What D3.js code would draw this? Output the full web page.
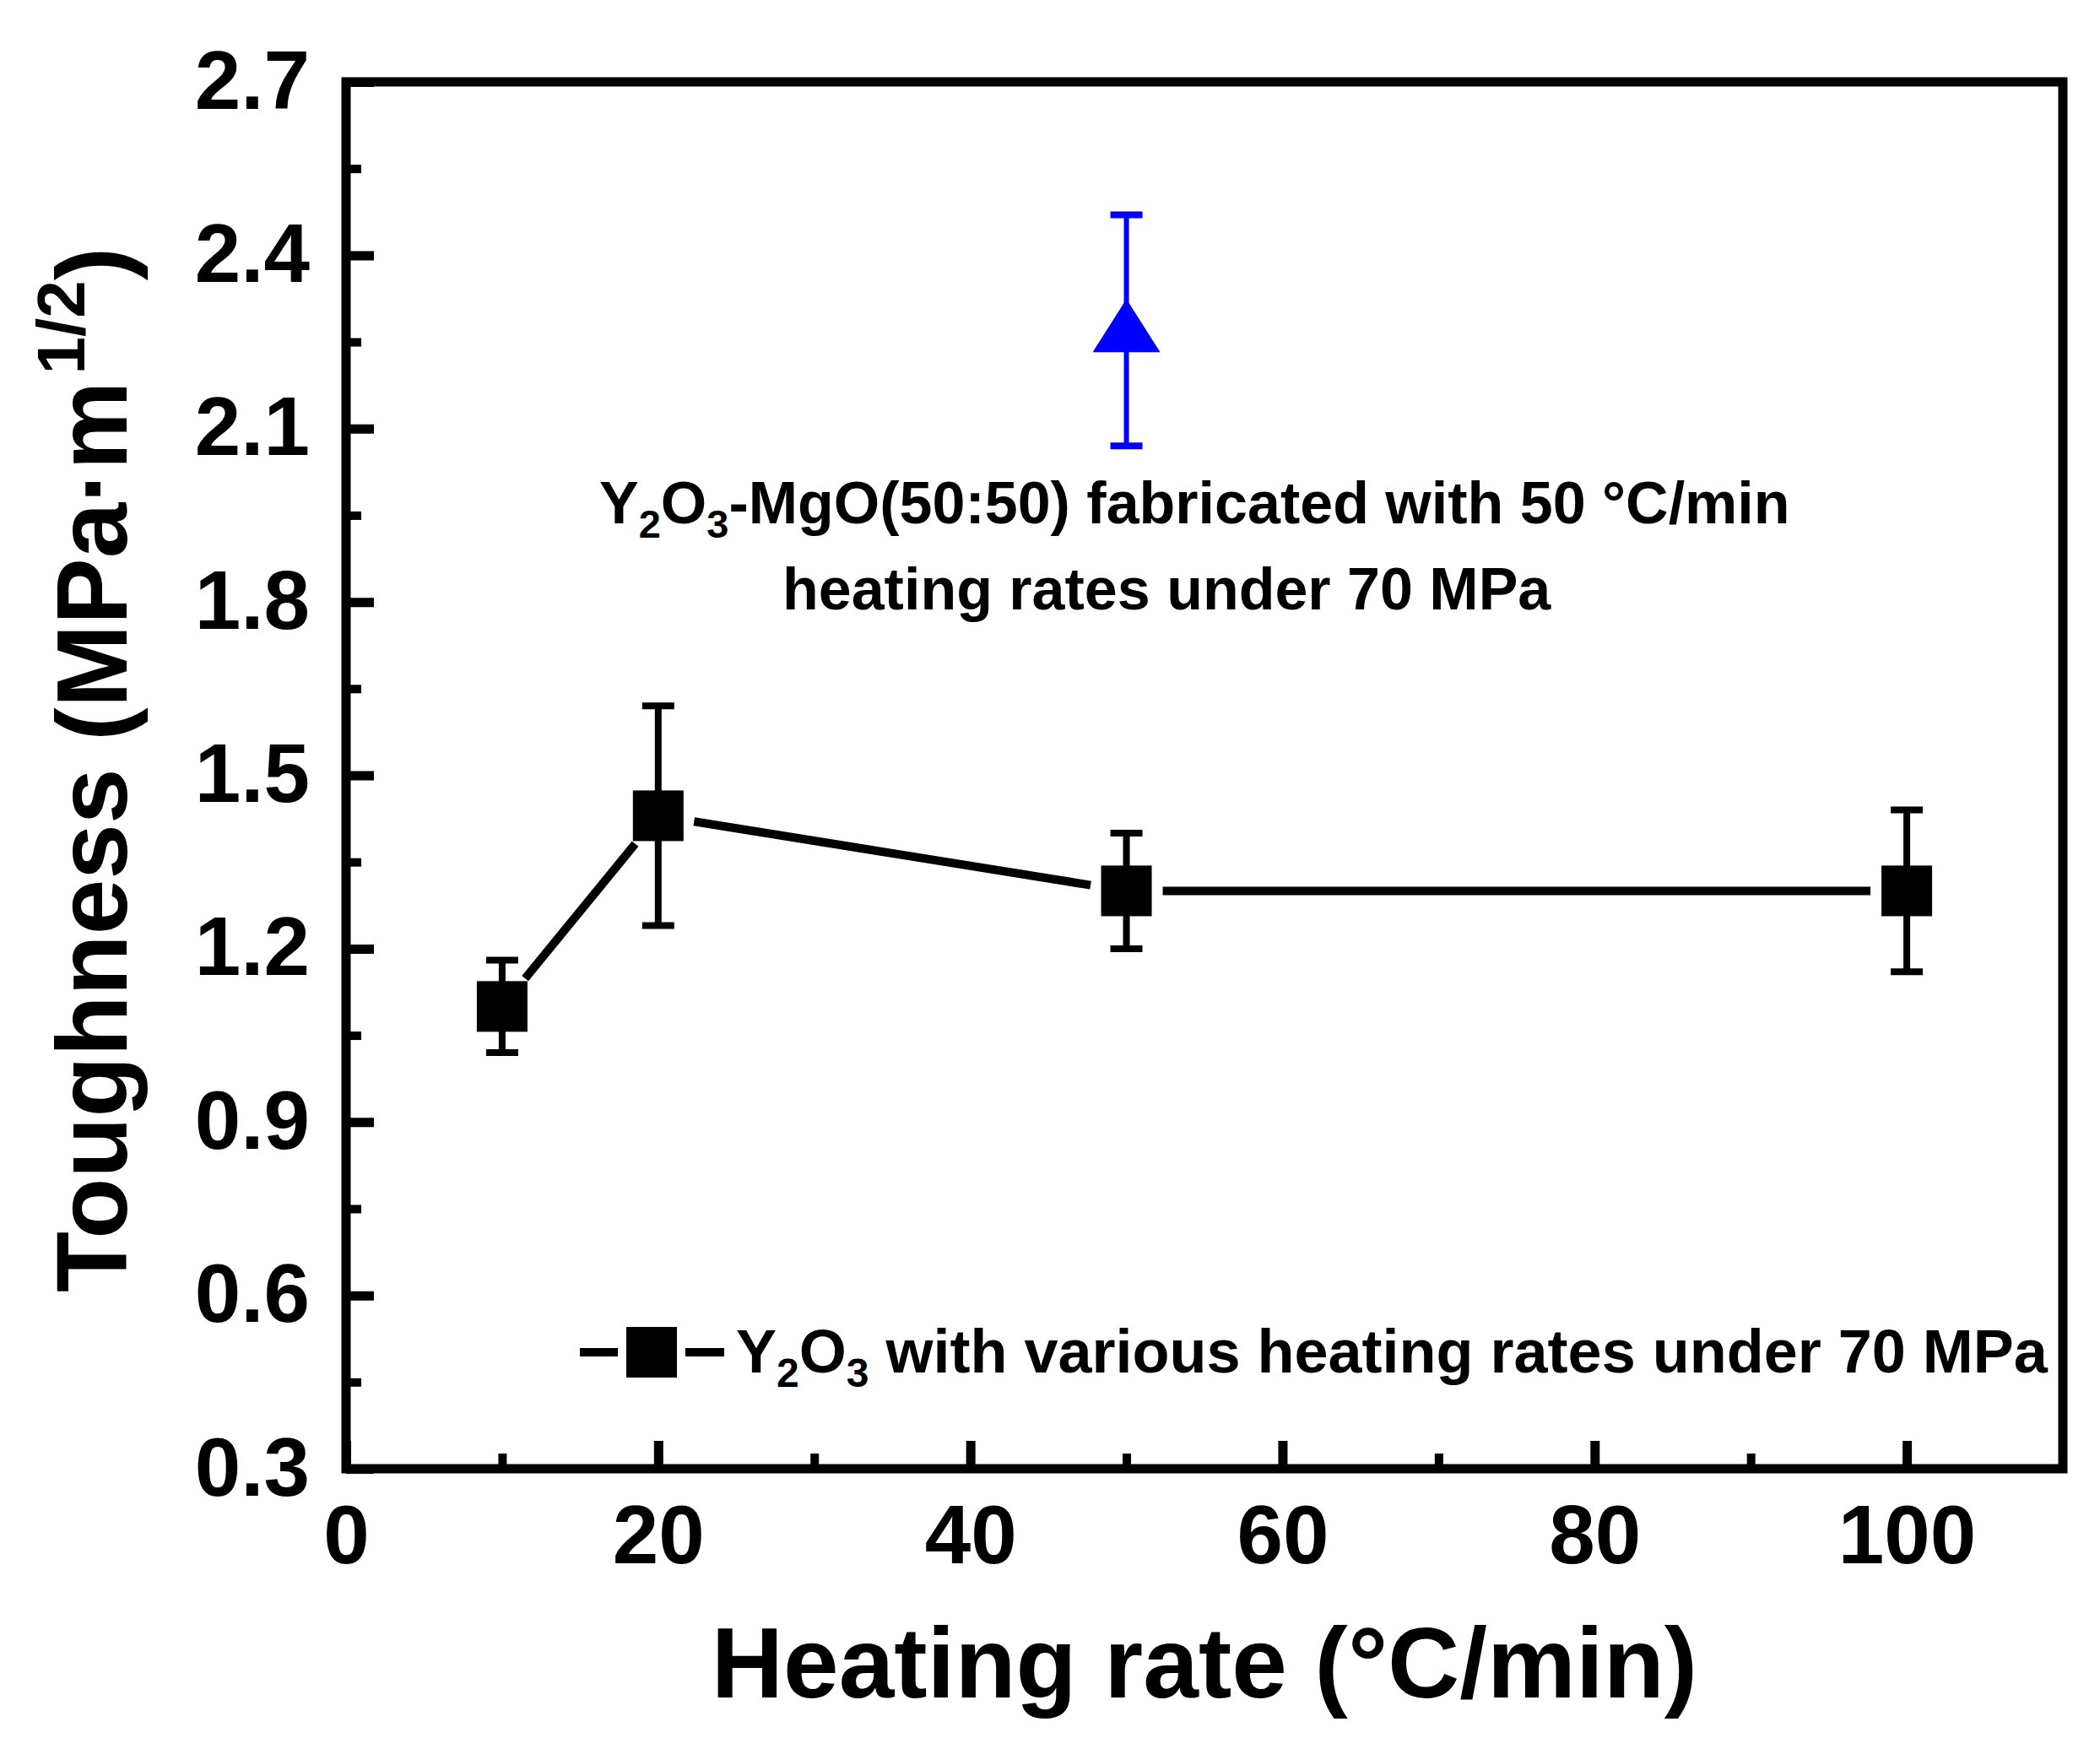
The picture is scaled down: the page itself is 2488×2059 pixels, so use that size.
<!DOCTYPE html>
<html>
<head>
<meta charset="utf-8">
<script src="https://cdn.jsdelivr.net/npm/d3@7"></script>
<style>
  html, body { margin: 0; padding: 0; background: #fff; }
  svg { display: block; }
  text { font-family: "Liberation Sans", Arial, sans-serif; font-weight: bold; fill: #000; }
</style>
</head>
<body>
<script>
// ---- Data ----
const heatingRates = [10, 20, 50, 100];
const toughness = [1.10, 1.43, 1.30, 1.30];
const toughnessErr = [0.08, 0.19, 0.10, 0.14];

const mgoRate = [50];
const mgoToughness = [2.27];
const mgoErr = [0.20];

const xMajorTicks = [0, 20, 40, 60, 80, 100];
const xMinorTicks = [10, 30, 50, 70, 90];
const yMajorTicks = [0.3, 0.6, 0.9, 1.2, 1.5, 1.8, 2.1, 2.4, 2.7];
const yTickLabels = ["0.3", "0.6", "0.9", "1.2", "1.5", "1.8", "2.1", "2.4", "2.7"];
const yMinorTicks = [0.45, 0.75, 1.05, 1.35, 1.65, 1.95, 2.25, 2.55];

const legendLabel = ["Y", "2", "O", "3", " with various heating rates under 70 MPa"];

// ---- Layout ----
const W = 2488, H = 2059;
const L = 410, R = 2444, T = 97, B = 1740;

const svg = d3.select("body").append("svg").attr("width", W).attr("height", H);

const x = d3.scaleLinear().domain([0, 110]).range([L, R]);
const y = d3.scaleLinear().domain([0.3, 2.7]).range([B, T]);

// axes (ticks inward)
const gx = svg.append("g").attr("transform", `translate(0,${B})`)
  .call(d3.axisBottom(x).tickValues(xMajorTicks).tickSize(-33).tickFormat(d3.format("d")));
gx.select(".domain").remove();
gx.selectAll("line").attr("stroke", "#000").attr("stroke-width", 11);
gx.selectAll("text").attr("y", 112).attr("dy", null).attr("font-size", 98)
  .attr("text-anchor", "middle").style("font-family", "Liberation Sans, Arial, sans-serif").style("font-weight", "bold").attr("fill", "#000");

const gxm = svg.append("g").attr("transform", `translate(0,${B})`)
  .call(d3.axisBottom(x).tickValues(xMinorTicks).tickSize(-18).tickFormat(""));
gxm.select(".domain").remove();
gxm.selectAll("line").attr("stroke", "#000").attr("stroke-width", 10);

const gy = svg.append("g").attr("transform", `translate(${L},0)`)
  .call(d3.axisLeft(y).tickValues(yMajorTicks).tickSize(-33).tickFormat((d, i) => yTickLabels[i]));
gy.select(".domain").remove();
gy.selectAll("line").attr("stroke", "#000").attr("stroke-width", 11);
gy.selectAll("text").attr("x", -43).attr("dy", null).attr("y", 31).attr("font-size", 98)
  .attr("text-anchor", "end").style("font-family", "Liberation Sans, Arial, sans-serif").style("font-weight", "bold").attr("fill", "#000");

const gym = svg.append("g").attr("transform", `translate(${L},0)`)
  .call(d3.axisLeft(y).tickValues(yMinorTicks).tickSize(-18).tickFormat(""));
gym.select(".domain").remove();
gym.selectAll("line").attr("stroke", "#000").attr("stroke-width", 10);

// frame
svg.append("rect").attr("x", L).attr("y", T).attr("width", R - L).attr("height", B - T)
  .attr("fill", "none").attr("stroke", "#000").attr("stroke-width", 11);

// ---- connecting line with gaps around markers ----
const gap = 43;
const pts = heatingRates.map((d, i) => [x(d), y(toughness[i])]);
const segs = [];
for (let i = 0; i < pts.length - 1; i++) {
  const [x1, y1] = pts[i], [x2, y2] = pts[i + 1];
  const len = Math.hypot(x2 - x1, y2 - y1);
  const ux = (x2 - x1) / len, uy = (y2 - y1) / len;
  segs.push([[x1 + ux * gap, y1 + uy * gap], [x2 - ux * gap, y2 - uy * gap]]);
}
svg.append("g").selectAll("path").data(segs).join("path")
  .attr("d", d => d3.line()(d))
  .attr("stroke", "#000").attr("stroke-width", 10).attr("fill", "none");

// ---- error bars ----
function errorBars(g, xs, ys, es, color, sw, capW, capT) {
  const data = xs.map((d, i) => ({ x: d, y: ys[i], e: es[i] }));
  g.selectAll("line.stem").data(data).join("line").attr("class", "stem")
    .attr("x1", d => x(d.x)).attr("x2", d => x(d.x))
    .attr("y1", d => y(d.y + d.e)).attr("y2", d => y(d.y - d.e))
    .attr("stroke", color).attr("stroke-width", sw);
  g.selectAll("line.capT").data(data).join("line").attr("class", "capT")
    .attr("x1", d => x(d.x) - capW / 2).attr("x2", d => x(d.x) + capW / 2)
    .attr("y1", d => y(d.y + d.e)).attr("y2", d => y(d.y + d.e))
    .attr("stroke", color).attr("stroke-width", capT);
  g.selectAll("line.capB").data(data).join("line").attr("class", "capB")
    .attr("x1", d => x(d.x) - capW / 2).attr("x2", d => x(d.x) + capW / 2)
    .attr("y1", d => y(d.y - d.e)).attr("y2", d => y(d.y - d.e))
    .attr("stroke", color).attr("stroke-width", capT);
}
errorBars(svg.append("g"), heatingRates, toughness, toughnessErr, "#000", 8, 38, 8);
errorBars(svg.append("g"), mgoRate, mgoToughness, mgoErr, "#0000ff", 6, 38, 8);

// ---- markers ----
const sq = 60;
svg.append("g").selectAll("rect").data(heatingRates).join("rect")
  .attr("x", d => x(d) - sq / 2).attr("y", (d, i) => y(toughness[i]) - sq / 2)
  .attr("width", sq).attr("height", sq).attr("fill", "#000");

svg.append("g").selectAll("path").data(mgoRate).join("path")
  .attr("d", (d, i) => {
    const cx = x(d), cy = y(mgoToughness[i]);
    return `M${cx},${cy - 37} L${cx + 40},${cy + 26} L${cx - 40},${cy + 26} Z`;
  })
  .attr("fill", "#0000ff");

// ---- annotation ----
const ann = svg.append("text").attr("x", 710).attr("y", 620).attr("font-size", 70);
ann.append("tspan").text("Y");
ann.append("tspan").attr("font-size", 47).attr("dy", 17).text("2");
ann.append("tspan").attr("dy", -17).text("O");
ann.append("tspan").attr("font-size", 47).attr("dy", 17).text("3");
ann.append("tspan").attr("dy", -17).text("-MgO(50:50)  fabricated with 50 °C/min");

svg.append("text").attr("x", 927).attr("y", 722).attr("font-size", 70)
  .text("heating rates under 70 MPa");

// ---- legend ----
const legY = 1602;
svg.append("line").attr("x1", 687).attr("x2", 732).attr("y1", legY).attr("y2", legY)
  .attr("stroke", "#000").attr("stroke-width", 10);
svg.append("line").attr("x1", 812).attr("x2", 858).attr("y1", legY).attr("y2", legY)
  .attr("stroke", "#000").attr("stroke-width", 10);
svg.append("rect").attr("x", 772 - sq / 2).attr("y", legY - sq / 2).attr("width", sq).attr("height", sq).attr("fill", "#000");
const leg = svg.append("text").attr("x", 872).attr("y", 1626).attr("font-size", 72);
leg.append("tspan").text(legendLabel[0]);
leg.append("tspan").attr("font-size", 48).attr("dy", 17).text(legendLabel[1]);
leg.append("tspan").attr("dy", -17).text(legendLabel[2]);
leg.append("tspan").attr("font-size", 48).attr("dy", 17).text(legendLabel[3]);
leg.append("tspan").attr("dy", -17).text(legendLabel[4]);

// ---- axis titles ----
svg.append("text").attr("x", (L + R) / 2).attr("y", 2011).attr("text-anchor", "middle")
  .attr("font-size", 118).text("Heating rate (°C/min)");

const yt = svg.append("text").attr("transform", `translate(150,912) rotate(-90)`)
  .attr("text-anchor", "middle").attr("font-size", 118);
yt.append("tspan").text("Toughness (MPa·m");
yt.append("tspan").attr("font-size", 80).attr("dx", 8).attr("dy", -50).text("1/2");
yt.append("tspan").attr("dy", 50).text(")");
</script>
</body>
</html>
